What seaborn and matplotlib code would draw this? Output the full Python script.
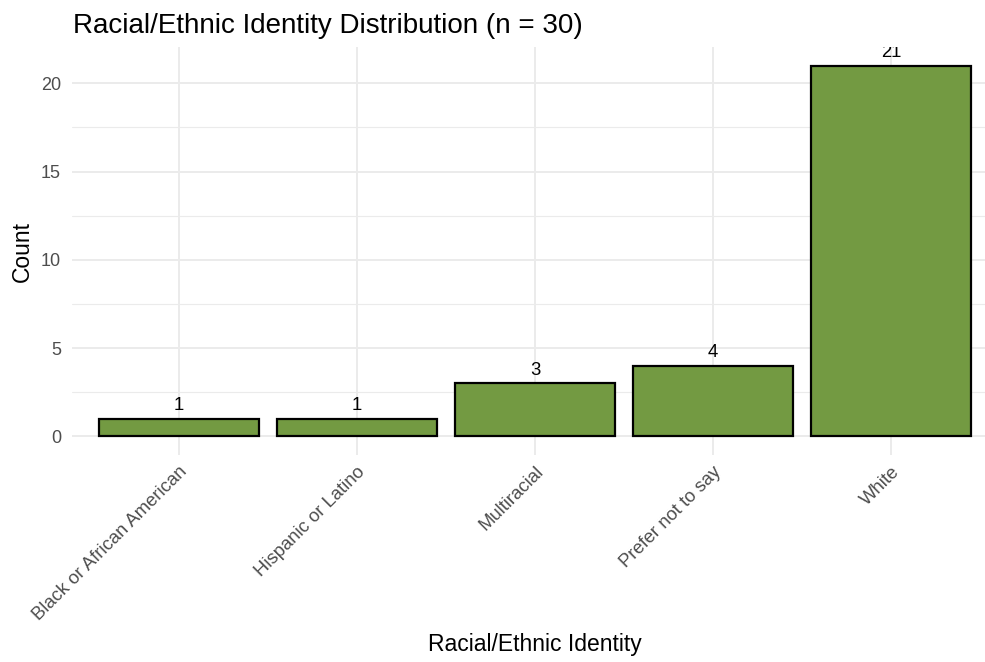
import matplotlib
matplotlib.use("Agg")
import matplotlib.pyplot as plt
import seaborn as sns
import pandas as pd

# Survey counts by racial/ethnic identity
categories = ["Black or African American", "Hispanic or Latino", "Multiracial",
              "Prefer not to say", "White"]
counts = [1, 1, 3, 4, 21]
y_ticks = [0, 5, 10, 15, 20]
y_minor = [2.5, 7.5, 12.5, 17.5]
title = "Racial/Ethnic Identity Distribution (n = 30)"

df = pd.DataFrame({"identity": categories, "count": counts})

sns.set_theme(style="white")
plt.rcParams["font.family"] = ["Liberation Sans", "DejaVu Sans"]

fig = plt.figure(figsize=(9.85, 6.62), dpi=100)
ax = fig.add_axes([72 / 985, 1 - 455 / 662, (998 - 72) / 985, (455 - 47) / 662])

grid_col = "#EBEBEB"
ax.set_axisbelow(True)
for t in y_ticks:
    ax.axhline(t, color=grid_col, lw=1.4, zorder=0)
for t in y_minor:
    ax.axhline(t, color=grid_col, lw=0.8, zorder=0)
for i in range(len(categories)):
    ax.axvline(i, color=grid_col, lw=1.4, zorder=0)

sns.barplot(data=df, x="identity", y="count", order=categories,
            color="#739A42", saturation=1, edgecolor="black", linewidth=1.6,
            width=0.9, ax=ax, zorder=2)

for i, v in enumerate(counts):
    ax.annotate(str(v), xy=(i, v), xytext=(0, 3.5), textcoords="offset points",
                ha="center", va="bottom", fontsize=13.3, color="black",
                clip_on=True, zorder=3)

ymax = max(counts)
ax.set_ylim(-0.05 * ymax, 1.05 * ymax)
ax.set_xlim(-0.6, len(categories) - 0.4)

ax.set_yticks(y_ticks)
ax.set_yticklabels([str(t) for t in y_ticks])
ax.tick_params(axis="y", length=0, pad=8, labelsize=13, labelcolor="#4D4D4D")
ax.tick_params(axis="x", length=0, pad=6, labelsize=13.3, labelcolor="#4D4D4D")
ax.set_xticks(range(len(categories)))
ax.set_xticklabels(categories, rotation=45, ha="right", va="top",
                   rotation_mode="anchor")

for s in ax.spines.values():
    s.set_visible(False)

ax.set_xlabel("Racial/Ethnic Identity", fontsize=16.5, va="center", color="black")
ax.xaxis.set_label_coords(0.5, (455 - 645) / 408)
ax.set_ylabel("Count", fontsize=16.5, va="center", color="black")
ax.yaxis.set_label_coords((22 - 72) / 926, 0.5)
fig.text(73 / 985, 1 - 26 / 662, title, fontsize=20, ha="left", va="center",
         color="black")

fig.savefig("out.png", dpi=100)
